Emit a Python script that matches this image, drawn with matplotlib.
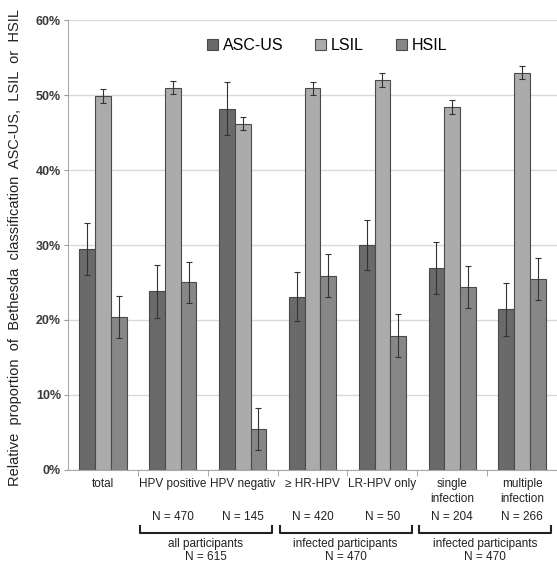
import matplotlib.pyplot as plt
import numpy as np

plt.rcParams['font.family'] = ['Liberation Sans', 'DejaVu Sans']

# categories and values (percent)
categories = ["total", "HPV positive", "HPV negativ", "\u2265 HR-HPV", "LR-HPV only",
              "single\ninfection", "multiple\ninfection"]
asc_us = [29.5, 23.8, 48.2, 23.1, 30.0, 26.9, 21.4]
lsil = [49.9, 51.0, 46.2, 50.9, 52.0, 48.4, 53.0]
hsil = [20.4, 25.0, 5.5, 25.9, 17.9, 24.4, 25.5]
asc_err = [3.5, 3.5, 3.5, 3.3, 3.4, 3.5, 3.5]
lsil_err = [0.9, 0.9, 0.9, 0.9, 0.9, 0.9, 0.9]
hsil_err = [2.8, 2.8, 2.8, 2.9, 2.9, 2.8, 2.8]

n_labels = ["", "N = 470", "N = 145", "N = 420", "N = 50", "N = 204", "N = 266"]
groups = [(1, 2, "all participants\nN = 615"),
          (3, 4, "infected participants\nN = 470"),
          (5, 6, "infected participants\nN = 470")]

series = [("ASC-US", asc_us, asc_err, "#6a6a6a"),
          ("LSIL", lsil, lsil_err, "#ababab"),
          ("HSIL", hsil, hsil_err, "#878787")]

fig = plt.figure(figsize=(5.57, 5.64), dpi=100)
ax = fig.add_axes([0.1221, 0.1667, 0.8779, 0.7978])

x = np.arange(len(categories))
w = 0.225
for i, (name, vals, errs, col) in enumerate(series):
    ax.bar(x + (i - 1) * w, vals, w, color=col, edgecolor="#4a4a4a", linewidth=0.8,
           label=name, zorder=3)
    ax.errorbar(x + (i - 1) * w, vals, yerr=errs, fmt="none", ecolor="#333333",
                elinewidth=0.8, capsize=2.5, capthick=0.8, zorder=4)

ax.set_xlim(-0.5, len(categories) - 0.5)
ax.set_ylim(0, 60)
ax.set_yticks(np.arange(0, 61, 10))
ax.set_yticklabels([f"{v}%" for v in range(0, 61, 10)], fontsize=9, fontweight="bold",
                   color="#3a3a3a")
ax.yaxis.grid(True, color="#d9d9d9", linewidth=1, zorder=0)
ax.tick_params(axis="y", length=3, color="#999999", pad=2)

ax.set_xticks(x)
ax.set_xticklabels(categories, fontsize=8.5, color="#222222", linespacing=1.3)
ax.tick_params(axis="x", length=0, pad=6)
ax.set_xticks(np.arange(0.5, len(categories) - 0.5, 1), minor=True)
ax.tick_params(axis="x", which="minor", length=4, color="#999999")

for s in ["top", "right"]:
    ax.spines[s].set_visible(False)
for s in ["left", "bottom"]:
    ax.spines[s].set_color("#aaaaaa")

fig.text(15 / 557, 1 - 247 / 564,
         "Relative  proportion  of  Bethesda  classification  ASC-US,  LSIL  or  HSIL",
         rotation=90, ha="center", va="center", fontsize=10.5, color="#222222")

ax.legend(loc="center", bbox_to_anchor=(0.53, 0.944), ncol=3, frameon=False,
          fontsize=11.5, handlelength=0.7, handleheight=0.7, handletextpad=0.3,
          columnspacing=2.0)

# annotations below the axis
tr = ax.get_xaxis_transform()
for xi, lab in zip(x, n_labels):
    if lab:
        ax.text(xi, -0.104, lab, transform=tr, ha="center", va="center", fontsize=8.5,
                color="#222222")
for a, b, lab in groups:
    x0, x1 = a - 0.47, b + 0.42
    ax.plot([x0, x0, x1, x1], [-0.125, -0.139, -0.139, -0.125], transform=tr,
            color="#222222", linewidth=1.5, clip_on=False)
    ax.text((x0 + x1) / 2, -0.178, lab, transform=tr, ha="center", va="center",
            fontsize=8.5, color="#222222", linespacing=1.1)

fig.savefig("out.png", dpi=100)
